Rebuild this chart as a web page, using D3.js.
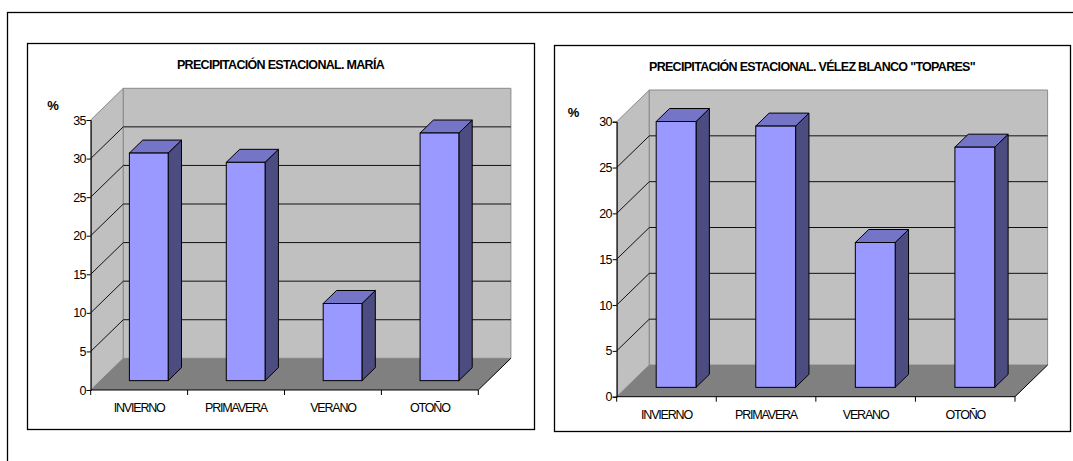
<!DOCTYPE html>
<html>
<head>
<meta charset="utf-8">
<script src="https://cdn.jsdelivr.net/npm/d3@7"></script>
<style>
  html, body { margin: 0; padding: 0; background: #fff; }
  svg { display: block; font-family: "Liberation Sans", Arial, sans-serif; }
</style>
</head>
<body>
<svg id="chart" width="1073" height="461"></svg>
<script>
// Seasonal precipitation share (%) per season
const seasons = ["INVIERNO", "PRIMAVERA", "VERANO", "OTOÑO"];
const mariaValues = [29.5, 28.3, 10.0, 32.1];
const velezValues = [29.0, 28.5, 15.8, 26.2];
const mariaTicks = [0, 5, 10, 15, 20, 25, 30, 35];
const velezTicks = [0, 5, 10, 15, 20, 25, 30];
const mariaTitle = "PRECIPITACIÓN ESTACIONAL. MARÍA";
const velezTitle = "PRECIPITACIÓN ESTACIONAL. VÉLEZ BLANCO \"TOPARES\"";

const svg = d3.select("#chart");

// outer frame
svg.append("rect")
  .attr("x", 7.5).attr("y", 12.5)
  .attr("width", 1100).attr("height", 500)
  .attr("fill", "none").attr("stroke", "#000").attr("stroke-width", 1.3);

const colors = {
  wall: "#c0c0c0",
  wallEdge: "#8a8a8a",
  floor: "#808080",
  grid: "#111",
  front: "#9999ff",
  top: "#7575c8",
  side: "#4c4c80"
};

// depth of the 3D plot box, in pixels
const DX = 32.6, DY = 31.7;
const barDepthFrac = 0.41;

function drawChart(opt) {
  const g = svg.append("g");

  // chart area box
  g.append("rect")
    .attr("x", opt.box.x + 0.5).attr("y", opt.box.y + 0.5)
    .attr("width", opt.box.w).attr("height", opt.box.h)
    .attr("fill", "#fff").attr("stroke", "#000").attr("stroke-width", 1.3);

  g.append("text")
    .attr("x", opt.box.x + opt.box.w / 2)
    .attr("y", opt.box.y + 25.5)
    .attr("text-anchor", "middle")
    .attr("font-size", 12.5).attr("font-weight", "bold")
    .attr("letter-spacing", "-0.7px")
    .text(opt.title);

  const x0 = opt.plot.x0, x1 = opt.plot.x1, y0 = opt.plot.y0, yT = opt.plot.yTop;
  const ymax = opt.ticks[opt.ticks.length - 1];

  const x = d3.scaleBand().domain(seasons).range([x0, x1])
    .paddingInner(0.6).paddingOuter(0.3);
  const y = d3.scaleLinear().domain([0, ymax]).range([y0, yT]);

  const poly = pts => "M" + pts.map(p => p.join(",")).join("L") + "Z";

  // left wall
  g.append("path")
    .attr("d", poly([[x0, y0], [x0, yT], [x0 + DX, yT - DY], [x0 + DX, y0 - DY]]))
    .attr("fill", colors.wall).attr("stroke", colors.wallEdge);
  // back wall
  g.append("path")
    .attr("d", poly([[x0 + DX, yT - DY], [x1 + DX, yT - DY], [x1 + DX, y0 - DY], [x0 + DX, y0 - DY]]))
    .attr("fill", colors.wall).attr("stroke", colors.wallEdge);
  // floor
  g.append("path")
    .attr("d", poly([[x0, y0], [x1, y0], [x1 + DX, y0 - DY], [x0 + DX, y0 - DY]]))
    .attr("fill", colors.floor).attr("stroke", "none");
  g.append("line")
    .attr("x1", x1).attr("y1", y0).attr("x2", x1 + DX).attr("y2", y0 - DY)
    .attr("stroke", "#000");

  // gridlines on walls
  const inner = opt.ticks.filter(t => t > 0 && t < ymax);
  g.selectAll(".gridBack").data(inner).join("line")
    .attr("x1", x0 + DX).attr("x2", x1 + DX)
    .attr("y1", d => y(d) - DY).attr("y2", d => y(d) - DY)
    .attr("stroke", colors.grid).attr("stroke-width", 1);
  g.selectAll(".gridSide").data(inner).join("line")
    .attr("x1", x0).attr("y1", d => y(d))
    .attr("x2", x0 + DX).attr("y2", d => y(d) - DY)
    .attr("stroke", colors.grid).attr("stroke-width", 1);

  // bars
  const bd = barDepthFrac;
  const f0 = (1 - bd) / 2;
  const ox = f0 * DX, oy = f0 * DY;
  const bx = bd * DX, by = bd * DY;
  const bars = g.selectAll(".bar").data(opt.values.map((v, i) => ({ k: seasons[i], v })))
    .join("g");
  bars.each(function (d) {
    const b = d3.select(this);
    const L = x(d.k) + ox, R = L + x.bandwidth();
    const B = y(0) - oy, T = y(d.v) - oy;
    b.append("path")
      .attr("d", poly([[R, B], [R, T], [R + bx, T - by], [R + bx, B - by]]))
      .attr("fill", colors.side).attr("stroke", "#000").attr("stroke-linejoin", "round");
    b.append("path")
      .attr("d", poly([[L, T], [R, T], [R + bx, T - by], [L + bx, T - by]]))
      .attr("fill", colors.top).attr("stroke", "#000").attr("stroke-linejoin", "round");
    b.append("rect")
      .attr("x", L).attr("y", T).attr("width", R - L).attr("height", B - T)
      .attr("fill", colors.front).attr("stroke", "#000");
  });

  // value axis
  const yAxis = g.append("g").attr("transform", `translate(${x0},0)`)
    .call(d3.axisLeft(y).tickValues(opt.ticks).tickSize(4).tickPadding(1));
  yAxis.select(".domain").attr("stroke", "#000");
  yAxis.selectAll("text").attr("font-size", 12.5).attr("letter-spacing", "-0.7px")
    .attr("font-family", "'Liberation Sans', Arial, sans-serif").attr("fill", "#000");

  // category axis
  const xAxis = g.append("g").attr("transform", `translate(0,${y0})`)
    .call(d3.axisBottom(x).tickSize(0).tickPadding(13));
  xAxis.select(".domain").remove();
  xAxis.selectAll("text").attr("font-size", 12.5).attr("letter-spacing", "-1.2px")
    .attr("font-family", "'Liberation Sans', Arial, sans-serif").attr("fill", "#000");
  g.append("line").attr("x1", x0).attr("x2", x1).attr("y1", y0).attr("y2", y0)
    .attr("stroke", "#000");
  const bounds = d3.range(seasons.length + 1).map(i => x0 + i * x.step());
  g.selectAll(".xtick").data(bounds).join("line")
    .attr("x1", d => d).attr("x2", d => d)
    .attr("y1", y0).attr("y2", y0 + 5)
    .attr("stroke", "#000");

  g.append("text")
    .attr("x", opt.pct.x).attr("y", opt.pct.y)
    .attr("text-anchor", "middle")
    .attr("font-size", 13).attr("font-weight", "bold")
    .text("%");
}

drawChart({
  box: { x: 27, y: 43, w: 507, h: 386 },
  plot: { x0: 90.7, x1: 478.3, y0: 390, yTop: 120 },
  pct: { x: 53, y: 110 },
  title: mariaTitle,
  values: mariaValues,
  ticks: mariaTicks
});

drawChart({
  box: { x: 554, y: 45, w: 516, h: 386 },
  plot: { x0: 616.7, x1: 1015, y0: 396.7, yTop: 121.7 },
  pct: { x: 573.5, y: 117 },
  title: velezTitle,
  values: velezValues,
  ticks: velezTicks
});
</script>
</body>
</html>
